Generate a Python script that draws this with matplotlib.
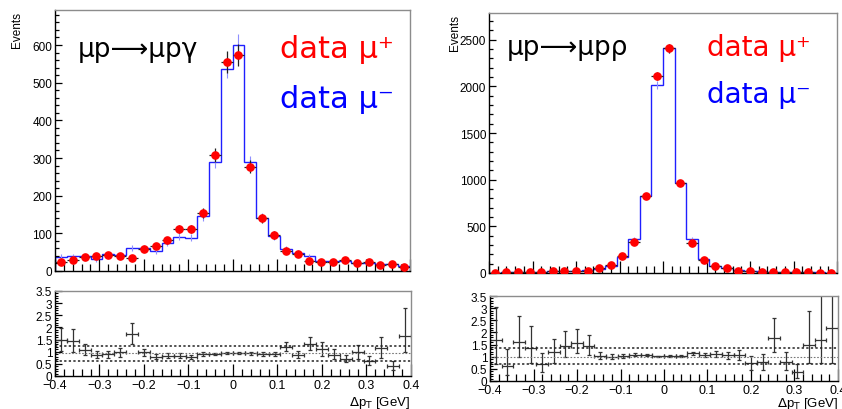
import matplotlib.pyplot as plt
import numpy as np
from matplotlib.ticker import MultipleLocator

plt.rcParams['font.family'] = ['Liberation Sans', 'DejaVu Sans']

W, H = 842, 410

# 30 bins in delta pT from -0.4 to 0.4 GeV
edges = np.linspace(-0.4, 0.4, 31)
centers = 0.5 * (edges[:-1] + edges[1:])
half = 0.5 * (edges[1] - edges[0])

# mu p -> mu p gamma
g_plus = [24, 28, 37, 40, 42, 40, 35, 58, 66, 82, 112, 111, 155, 308, 555,
          574, 277, 140, 95, 53, 44, 27, 25, 23, 29, 22, 24, 15, 19, 11]
g_plus_err = [5, 5, 6, 6, 6, 6, 6, 8, 8, 9, 11, 11, 13, 18, 30,
              30, 17, 12, 10, 7, 7, 5, 5, 5, 5, 5, 5, 4, 4, 3]
g_minus = [38, 40, 40, 31, 44, 42, 62, 62, 53, 75, 91, 88, 146, 290, 536,
           600, 289, 142, 93, 58, 49, 40, 27, 27, 27, 22, 22, 18, 18, 13]
g_minus_err = [6, 6, 6, 6, 7, 6, 8, 8, 7, 9, 10, 9, 12, 17, 23,
               28, 17, 12, 10, 8, 7, 6, 5, 5, 5, 5, 5, 4, 4, 4]
g_ratio = [1.48, 1.45, 1.08, 0.88, 0.90, 0.97, 1.73, 0.97, 0.80, 0.84,
           0.84, 0.80, 0.90, 0.90, 0.93, 0.96, 0.93, 0.90, 0.90, 1.20,
           0.88, 1.32, 1.11, 0.88, 0.70, 0.97, 0.63, 1.14, 0.42, 1.66]
g_ratio_lo = [0.45, 0.45, 0.20, 0.15, 0.15, 0.18, 0.40, 0.15, 0.10, 0.10,
              0.10, 0.08, 0.07, 0.05, 0.04, 0.04, 0.05, 0.07, 0.09, 0.18,
              0.15, 0.25, 0.30, 0.20, 0.12, 0.25, 0.18, 0.40, 0.18, 0.67]
g_ratio_hi = [0.50, 0.50, 0.25, 0.15, 0.15, 0.18, 0.47, 0.15, 0.10, 0.10,
              0.10, 0.08, 0.07, 0.05, 0.04, 0.04, 0.05, 0.07, 0.09, 0.20,
              0.15, 0.30, 0.30, 0.25, 0.15, 0.30, 0.20, 0.45, 0.20, 1.14]
g_band = [0.63, 0.95, 1.22]

# mu p -> mu p rho
r_plus = [5, 8, 10, 10, 15, 20, 20, 20, 25, 50, 90, 180, 330, 820, 2110,
          2410, 960, 320, 140, 70, 50, 25, 20, 15, 10, 10, 10, 8, 5, 5]
r_plus_err = [2, 3, 3, 3, 4, 4, 4, 4, 5, 7, 9, 13, 18, 29, 46,
              49, 31, 18, 12, 8, 7, 5, 4, 4, 3, 3, 3, 3, 2, 2]
r_minus = [5, 8, 10, 10, 15, 20, 20, 20, 30, 45, 80, 170, 365, 830, 2015,
           2410, 960, 365, 155, 80, 50, 35, 25, 20, 15, 12, 10, 8, 6, 5]
r_minus_err = [2, 3, 3, 3, 4, 4, 4, 4, 5, 7, 9, 13, 19, 29, 45,
               49, 31, 19, 12, 9, 7, 6, 5, 4, 4, 3, 3, 3, 2, 2]
r_ratio = [1.69, 0.60, 1.62, 1.36, 0.70, 1.18, 1.45, 1.55, 1.43, 1.04,
           1.00, 1.04, 1.08, 1.07, 1.01, 1.03, 1.02, 1.14, 1.07, 1.10,
           1.06, 1.08, 0.74, 0.77, 1.76, 0.80, 0.36, 1.50, 1.69, 2.20]
r_ratio_lo = [1.00, 0.34, 0.62, 0.62, 0.32, 0.44, 0.45, 0.41, 0.36, 0.15,
              0.10, 0.08, 0.06, 0.04, 0.03, 0.03, 0.04, 0.07, 0.10, 0.12,
              0.15, 0.20, 0.30, 0.30, 0.56, 0.35, 0.25, 0.75, 0.95, 1.46]
r_ratio_hi = [1.37, 0.72, 1.07, 0.89, 0.44, 0.55, 0.62, 0.59, 0.46, 0.15,
              0.10, 0.08, 0.06, 0.04, 0.03, 0.03, 0.04, 0.07, 0.10, 0.12,
              0.15, 0.20, 0.30, 0.35, 0.84, 0.40, 0.35, 1.40, 2.20, 2.00]
r_band = [0.72, 1.0, 1.35]


def px_axes(fig, x0, y0, x1, y1):
    return fig.add_axes([x0 / W, 1 - y1 / H, (x1 - x0) / W, (y1 - y0) / H])


def root_style(ax):
    for s in ['top', 'right']:
        ax.spines[s].set_color('#8c8c8c')
    for s in ['left', 'bottom']:
        ax.spines[s].set_color('black')
    for s in ax.spines.values():
        s.set_linewidth(1.0)
    ax.tick_params(which='both', direction='in', top=False, right=False,
                   labelsize=8.5, pad=2)
    ax.set_xlim(-0.4, 0.4)
    ax.xaxis.set_major_locator(MultipleLocator(0.1))
    ax.xaxis.set_minor_locator(MultipleLocator(0.02))
    ax.tick_params(axis='x', which='major', length=8.5, width=0.9)
    ax.tick_params(axis='x', which='minor', length=5, width=0.9)


def main_panel(ax, plus, plus_err, minus, minus_err, ymax, major, minor):
    root_style(ax)
    ax.stairs(minus, edges, color='#1f1fff', lw=1.0)
    ax.errorbar(centers, minus, yerr=minus_err, fmt='none',
                ecolor='#8f8fff', elinewidth=0.8)
    ax.errorbar(centers, plus, yerr=plus_err, xerr=half, fmt='o',
                color='red', ms=5.2, mec='red', ecolor='#222222',
                elinewidth=0.9, zorder=3)
    ax.set_ylim(0, ymax)
    ax.yaxis.set_major_locator(MultipleLocator(major))
    ax.yaxis.set_minor_locator(MultipleLocator(minor))
    ax.tick_params(axis='y', which='major', length=5, width=0.9)
    ax.tick_params(axis='y', which='minor', length=3, width=0.9)
    ax.tick_params(labelbottom=False)


def ratio_panel(ax, ratio, lo, hi, band):
    root_style(ax)
    ax.errorbar(centers, ratio, yerr=[lo, hi], xerr=half, fmt='none',
                ecolor='#333333', elinewidth=0.9, capsize=1.5, capthick=0.9)
    ax.axhline(band[0], color='#222222', ls=(0, (1.5, 1.5)), lw=1.1)
    ax.axhline(band[1], color='#777777', ls=(0, (1.5, 1.5)), lw=0.8)
    ax.axhline(band[2], color='#222222', ls=(0, (1.5, 1.5)), lw=1.1)
    ax.set_ylim(0, 3.5)
    ax.yaxis.set_major_locator(MultipleLocator(0.5))
    ax.yaxis.set_minor_locator(MultipleLocator(0.1))
    ax.tick_params(axis='y', which='major', length=5, width=0.9)
    ax.tick_params(axis='y', which='minor', length=2.5, width=0.8)
    ax.set_yticks(np.arange(0, 3.51, 0.5))
    ax.set_yticklabels(['0', '0.5', '1', '1.5', '2', '2.5', '3', '3.5'])
    ax.set_xticks(np.arange(-0.4, 0.41, 0.1))
    ax.set_xticklabels(['\u22120.4', '\u22120.3', '\u22120.2', '\u22120.1', '0',
                        '0.1', '0.2', '0.3', '0.4'], fontsize=9)


fig = plt.figure(figsize=(W / 100, H / 100), dpi=100)

ax1 = px_axes(fig, 55, 11, 410, 272)
main_panel(ax1, g_plus, g_plus_err, g_minus, g_minus_err, 693, 100, 20)
ax2 = px_axes(fig, 55, 292, 411, 377)
ratio_panel(ax2, g_ratio, g_ratio_lo, g_ratio_hi, g_band)

ax3 = px_axes(fig, 489, 14, 837, 274)
main_panel(ax3, r_plus, r_plus_err, r_minus, r_minus_err, 2786, 500, 100)
ax4 = px_axes(fig, 490, 297, 838, 382)
ratio_panel(ax4, r_ratio, r_ratio_lo, r_ratio_hi, r_band)


def ftext(x, y, s, **kw):
    fig.text(x / W, 1 - y / H, s, **kw)


ftext(17, 12, 'Events', rotation=90, ha='center', va='top', fontsize=8.5)
ftext(455, 15, 'Events', rotation=90, ha='center', va='top', fontsize=8.5)
ftext(410, 403, r'$\Delta$p$_{\mathrm{T}}$ [GeV]', ha='right', va='center', fontsize=9.5)
ftext(838, 404, r'$\Delta$p$_{\mathrm{T}}$ [GeV]', ha='right', va='center', fontsize=9.5)

big = dict(family=['DejaVu Sans'], va='baseline')
ftext(78, 57, 'μp\u27f6μpγ', color='black', fontsize=19, **big)
ftext(507, 55, 'μp\u27f6μpρ', color='black', fontsize=19, **big)
ftext(280, 58, 'data μ\u207a', color='#ff0000', fontsize=22, **big)
ftext(280, 108, 'data μ\u207b', color='#0000ff', fontsize=22, **big)
ftext(707, 56, 'data μ\u207a', color='#ff0000', fontsize=20, **big)
ftext(707, 103, 'data μ\u207b', color='#0000ff', fontsize=20, **big)

fig.savefig('out.png', dpi=100)
